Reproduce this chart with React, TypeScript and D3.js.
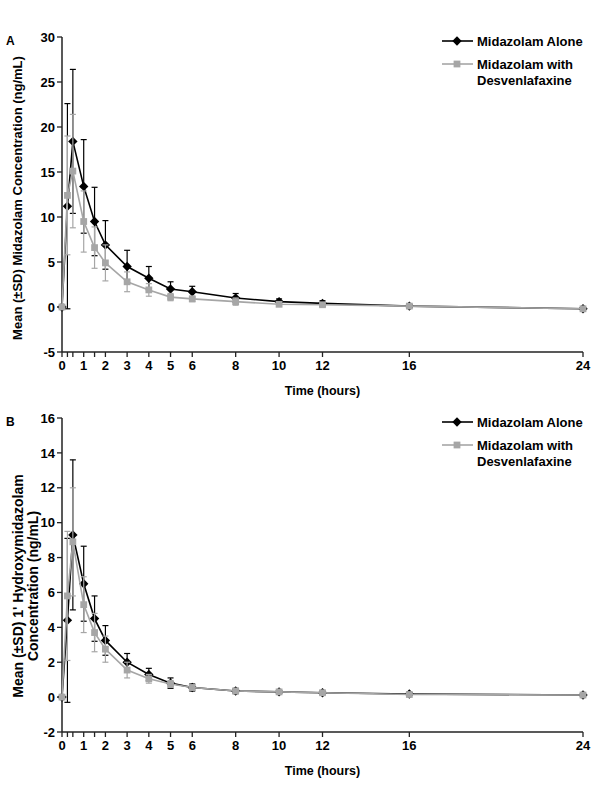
import React from "react"
import * as d3 from "d3"

// sampling times (hours)
const times = [0, 0.25, 0.5, 1, 1.5, 2, 3, 4, 5, 6, 8, 10, 12, 16, 24]
const xTicks = [0, 0.25, 0.5, 1, 1.5, 2, 3, 4, 5, 6, 8, 10, 12, 16, 24]
const xLabels = [0, 1, 2, 3, 4, 5, 6, 8, 10, 12, 16, 24]

// panel A - midazolam
const aloneA = [0, 11.2, 18.4, 13.4, 9.5, 6.9, 4.5, 3.2, 2.0, 1.7, 1.0, 0.6, 0.4, 0.1, -0.2]
const aloneSdA = [0, 11.4, 8.0, 5.2, 3.8, 2.7, 1.8, 1.3, 0.8, 0.6, 0.5, 0.3, 0.3, 0.2, 0]
const withA = [0, 12.4, 15.1, 9.5, 6.6, 4.9, 2.8, 1.9, 1.1, 0.9, 0.6, 0.3, 0.25, 0.1, -0.2]
const withSdA = [0, 6.6, 6.3, 3.4, 2.3, 2.0, 1.1, 0.7, 0.4, 0.3, 0.4, 0.2, 0.2, 0.2, 0]
const yTicksA = [-5, 0, 5, 10, 15, 20, 25, 30]

// panel B - 1'-hydroxymidazolam
const aloneB = [0, 4.4, 9.3, 6.5, 4.5, 3.25, 2.0, 1.3, 0.8, 0.55, 0.35, 0.3, 0.25, 0.18, 0.12]
const aloneSdB = [0, 4.7, 4.3, 2.15, 1.3, 0.85, 0.5, 0.35, 0.3, 0.2, 0.15, 0.1, 0.08, 0.06, 0.05]
const withB = [0, 5.8, 8.9, 5.3, 3.7, 2.75, 1.55, 1.05, 0.75, 0.55, 0.35, 0.3, 0.25, 0.15, 0.12]
const withSdB = [0, 3.7, 3.1, 1.6, 1.1, 0.75, 0.45, 0.25, 0.2, 0.15, 0.12, 0.1, 0.08, 0.06, 0.04]
const yTicksB = [-2, 0, 2, 4, 6, 8, 10, 12, 14, 16]

const legendNames = ["Midazolam Alone", ["Midazolam with", "Desvenlafaxine"]]

const FONT = "'Liberation Sans', Arial, sans-serif"
const BLACK = "#000"
const GREY = "#a6a6a6"
const AXIS = "#222"

const diamond = d3.symbol(d3.symbolSquare, 44)()
const square = d3.symbol(d3.symbolSquare, 46)()

const Series = ({ x, y, values, sd, color, marker, rotate }) => {
  const line = d3.line().x((d, i) => x(times[i])).y(d => y(d))
  return (
    <g>
      {values.map((v, i) => sd[i] > 0 && (
        <g key={i} stroke={color} strokeWidth={1.2}>
          <line x1={x(times[i])} x2={x(times[i])} y1={y(v - sd[i])} y2={y(v + sd[i])} />
          <line x1={x(times[i]) - 3} x2={x(times[i]) + 3} y1={y(v + sd[i])} y2={y(v + sd[i])} />
          <line x1={x(times[i]) - 3} x2={x(times[i]) + 3} y1={y(v - sd[i])} y2={y(v - sd[i])} />
        </g>
      ))}
      <path d={line(values)} fill="none" stroke={color} strokeWidth={1.6} />
      {values.map((v, i) => (
        <path key={i} d={marker} fill={color}
          transform={`translate(${x(times[i])},${y(v)}) rotate(${rotate})`} />
      ))}
    </g>
  )
}

const Panel = ({ letter, yDomain, yRange, yTicks, alone, aloneSd, withD, withSd, titleLines, titleX, titleY, titleSize }) => {
  const x = d3.scaleLinear().domain([0, 24]).range([62, 583])
  const y = d3.scaleLinear().domain(yDomain).range(yRange)
  const yBottom = yRange[0]
  const yTop = yRange[1]
  const legY = yTop + 4
  return (
    <g fontFamily={FONT} fontWeight="bold" fontSize={13}>
      <text x={6} y={yTop + 8} fontSize={12}>{letter}</text>
      {/* axes */}
      <line x1={x(0)} x2={x(0)} y1={yTop} y2={yBottom} stroke={AXIS} strokeWidth={1.5} />
      <line x1={x(0)} x2={x(24)} y1={yBottom} y2={yBottom} stroke={AXIS} strokeWidth={1.5} />
      {yTicks.map(t => (
        <g key={t}>
          <line x1={x(0) - 5} x2={x(0)} y1={y(t)} y2={y(t)} stroke={AXIS} strokeWidth={1.3} />
          <text x={x(0) - 7} y={y(t) + 4.7} textAnchor="end">{t}</text>
        </g>
      ))}
      {xTicks.map(t => (
        <line key={t} x1={x(t)} x2={x(t)} y1={yBottom} y2={yBottom + 5} stroke={AXIS} strokeWidth={1.3} />
      ))}
      {xLabels.map(t => (
        <text key={t} x={x(t)} y={yBottom + 18} textAnchor="middle">{t}</text>
      ))}
      <text x={(x(0) + x(24)) / 2} y={yBottom + 43} textAnchor="middle" fontSize={12.5}>Time (hours)</text>
      {titleLines.map((s, i) => (
        <text key={i} transform={`translate(${titleX[i]},${titleY}) rotate(-90)`} textAnchor="middle" fontSize={titleSize}>{s}</text>
      ))}
      {/* data */}
      <Series x={x} y={y} values={alone} sd={aloneSd} color={BLACK} marker={diamond} rotate={45} />
      <Series x={x} y={y} values={withD} sd={withSd} color={GREY} marker={square} rotate={0} />
      {/* legend */}
      <g>
        <line x1={442} x2={473} y1={legY} y2={legY} stroke={BLACK} strokeWidth={1.6} />
        <path d={diamond} fill={BLACK} transform={`translate(457,${legY}) rotate(45)`} />
        <text x={477} y={legY + 4.5}>{legendNames[0]}</text>
        <line x1={442} x2={473} y1={legY + 23} y2={legY + 23} stroke={GREY} strokeWidth={1.6} />
        <path d={square} fill={GREY} transform={`translate(457,${legY + 23})`} />
        <text x={477} y={legY + 27.5}>{legendNames[1][0]}</text>
        <text x={477} y={legY + 43.5}>{legendNames[1][1]}</text>
      </g>
    </g>
  )
}

export default function App() {
  return (
    <svg width={600} height={790} style={{ position: "absolute", left: 0, top: 0, background: "#fff" }}>
      <Panel letter="A" yDomain={[-5, 30]} yRange={[352, 37]} yTicks={yTicksA}
        alone={aloneA} aloneSd={aloneSdA} withD={withA} withSd={withSdA}
        titleLines={["Mean (±SD) Midazolam Concentration (ng/mL)"]} titleX={[21.5]} titleY={198} titleSize={13} />
      <Panel letter="B" yDomain={[-2, 16]} yRange={[732, 418]} yTicks={yTicksB}
        alone={aloneB} aloneSd={aloneSdB} withD={withB} withSd={withSdB}
        titleLines={["Mean (±SD) 1' Hydroxymidazolam", "Concentration (ng/mL)"]} titleX={[22.5, 38]} titleY={586} titleSize={14} />
    </svg>
  )
}
